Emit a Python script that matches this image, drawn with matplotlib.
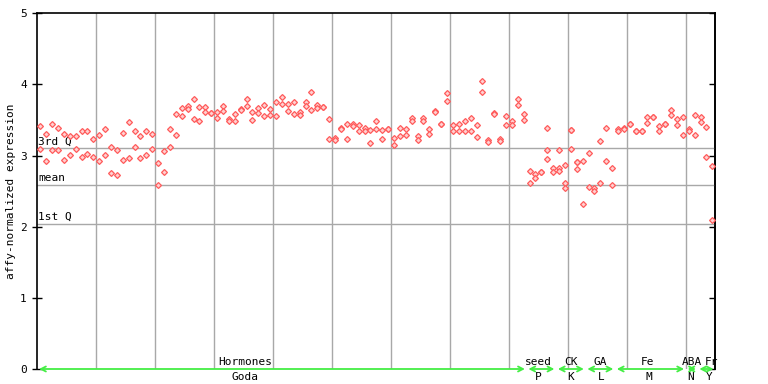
import matplotlib
matplotlib.use("Agg")
import matplotlib.pyplot as plt
import numpy as np

# ---- data ----
rep_a = [3.42, 3.31, 3.45, 3.39, 3.31, 3.28, 3.28, 3.34, 3.35, 3.23,
         3.29, 3.37, 3.12, 3.08, 3.32, 3.47, 3.34, 3.28, 3.35, 3.31,
         2.89, 3.06, 3.37, 3.58, 3.67, 3.69, 3.79, 3.68, 3.68, 3.60,
         3.61, 3.70, 3.52, 3.59, 3.66, 3.80, 3.61, 3.67, 3.71, 3.66,
         3.75, 3.83, 3.73, 3.75, 3.61, 3.76, 3.90, 3.71, 3.68, 3.51,
         3.25, 3.39, 3.45, 3.45, 3.43, 3.39, 3.36, 3.48, 3.36, 3.38,
         3.25, 3.39, 3.37, 3.53, 3.28, 3.53, 3.37, 3.62, 3.44, 3.88,
         3.43, 3.45, 3.49, 3.53, 3.43, 4.05, 3.22, 3.60, 3.23, 3.56,
         3.49, 3.79, 3.59, 2.78, 2.74, 2.77, 3.39, 2.82, 3.08, 2.87,
         3.36, 2.91, 2.92, 3.04, 2.54, 3.20, 3.39, 2.83, 3.37, 3.39,
         3.44, 3.34, 3.35, 3.54, 3.54, 3.42, 3.44, 3.64, 3.51, 3.54,
         3.37, 3.57, 3.54, 3.40, 2.85]
rep_b = [3.09, 2.92, 3.08, 3.08, 2.94, 3.01, 3.09, 2.98, 3.02, 2.98,
         2.92, 3.01, 2.76, 2.73, 2.94, 2.97, 3.12, 2.97, 3.01, 3.09,
         2.59, 2.77, 3.12, 3.29, 3.55, 3.65, 3.51, 3.48, 3.61, 3.60,
         3.53, 3.62, 3.49, 3.49, 3.64, 3.69, 3.50, 3.60, 3.55, 3.57,
         3.56, 3.72, 3.63, 3.59, 3.57, 3.69, 3.64, 3.67, 3.68, 3.24,
         3.22, 3.37, 3.23, 3.41, 3.34, 3.34, 3.17, 3.38, 3.23, 3.38,
         3.15, 3.28, 3.29, 3.49, 3.22, 3.48, 3.31, 3.61, 3.44, 3.77,
         3.35, 3.35, 3.35, 3.35, 3.26, 3.89, 3.19, 3.59, 3.20, 3.43,
         3.43, 3.71, 3.50, 2.62, 2.69, 2.77, 3.08, 2.77, 2.82, 2.62,
         3.36, 2.91, 2.32, 2.56, 2.50, 2.62, 2.92, 2.58, 3.34, 3.38,
         3.44, 3.34, 3.35, 3.46, 3.54, 3.35, 3.44, 3.57, 3.43, 3.29,
         3.34, 3.29, 3.47, 2.98, 2.10]
extra_idx = [86, 88, 89, 90, 91]
extra_val = [2.95, 2.78, 2.55, 3.09, 2.81]

third_q = 3.10
mean_val = 2.59
first_q = 2.04

groups_top = ["Hormones", "seed", "CK", "GA", "Fe", "ABA", "Fr"]
groups_bot = ["Goda", "P", "K", "L", "M", "N", "Y"]
group_start = [0, 83, 88, 93, 98, 110, 112]
group_end = [83, 88, 93, 98, 110, 112, 115]
top_label_x = [35.2, 85.0, 90.5, 95.5, 103.5, 111.0, 114.3]
bot_label_x = [35.2, 85.0, 90.5, 95.7, 103.8, 110.8, 113.9]
ytick_vals = [0, 1, 2, 3, 4, 5]

n = len(rep_a)
xs = np.arange(n) + 0.5

fig = plt.figure(figsize=(7.68, 3.84), dpi=100)
W, H = 768, 384
L, R, T, B = 37.3, 715.3, 13.3, 369.0
ax = fig.add_axes([L / W, 1 - B / H, (R - L) / W, (B - T) / H])
ax.set_xlim(0, n)
ax.set_ylim(0, 5)

mono = "DejaVu Sans Mono"
grid_c = "#a8a8a8"
for gx in range(10, n, 10):
    ax.axvline(gx, color=grid_c, lw=1.0, zorder=1)
for val, lab in [(third_q, "3rd Q"), (mean_val, "mean"), (first_q, "1st Q")]:
    ax.axhline(val, color=grid_c, lw=1.0, zorder=1)
    ax.annotate(lab, xy=(0, val), xytext=(0.5, 1.5), textcoords="offset points",
                ha="left", va="bottom", fontsize=8, family=mono, zorder=3)

red = "#ff5a5a"
kw = dict(marker="D", linestyle="none", markersize=3.0, markerfacecolor="#ffd0d0",
          markeredgecolor=red, markeredgewidth=0.9, zorder=4)
ax.plot(xs, rep_a, **kw)
ax.plot(xs, rep_b, **kw)
ax.plot(np.array(extra_idx) + 0.5, extra_val, **kw)

ax.set_yticks(ytick_vals)
ax.set_yticklabels([str(v) for v in ytick_vals], family=mono, fontsize=8)
ax.tick_params(axis="y", which="both", direction="inout", length=7, width=1,
               pad=4, right=False)
ax.set_xticks([])
ax.set_ylabel("affy-normalized expression", family=mono, fontsize=8, labelpad=3)

sec = ax.secondary_yaxis("right")
sec.set_yticks(ytick_vals)
sec.set_yticklabels([])
sec.tick_params(direction="in", length=4, width=1)
sec.spines["right"].set_linewidth(1.2)

for s in ["left", "right", "top"]:
    ax.spines[s].set_color("black")
    ax.spines[s].set_linewidth(1.2)
ax.spines["bottom"].set_visible(False)

green = "#44ee44"
for s, e in zip(group_start, group_end):
    ax.annotate("", xy=(s + 0.3, 0), xytext=(e - 0.3, 0),
                arrowprops=dict(arrowstyle="<->,head_length=0.35,head_width=0.18",
                                color=green, lw=1.3, shrinkA=0, shrinkB=0),
                annotation_clip=False, zorder=5)
for t, tx in zip(groups_top, top_label_x):
    ax.annotate(t, xy=(tx, 0), xytext=(0, 1.5), textcoords="offset points",
                ha="center", va="bottom", fontsize=8, family=mono,
                annotation_clip=False)
for b, bx in zip(groups_bot, bot_label_x):
    ax.annotate(b, xy=(bx, 0), xytext=(0, -2), textcoords="offset points",
                ha="center", va="top", fontsize=8, family=mono,
                annotation_clip=False)

fig.savefig("out.png", dpi=100)
